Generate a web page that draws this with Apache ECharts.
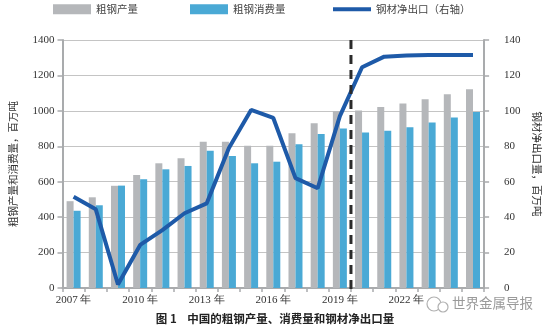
<!DOCTYPE html>
<html>
<head>
<meta charset="utf-8">
<script src="https://cdn.jsdelivr.net/npm/echarts@6/dist/echarts.min.js"></script>
<style>html,body{margin:0;padding:0;background:#fff;}#c{width:550px;height:327px;}</style>
</head>
<body>
<div id="c"></div>
<script>
var years = ['2007','2008','2009','2010','2011','2012','2013','2014','2015','2016','2017','2018','2019','2020','2021','2022','2023','2024','2025'];
var production = [490, 512, 577, 638, 704, 732, 826, 826, 803, 803, 873, 930, 998, 1002, 1022, 1042, 1066, 1094, 1122];
var consumption = [436, 467, 578, 614, 670, 689, 775, 745, 704, 713, 811, 869, 901, 878, 888, 908, 934, 962, 993];
var netExport = [51.5, 44.4, 2, 24.3, 32.7, 42.2, 47.8, 79, 100.5, 96, 62, 56.3, 97, 124.6, 130.6, 131.2, 131.5, 131.5, 131.5];
var leftTicks = {min: 0, max: 1400, interval: 200};
var rightTicks = {min: 0, max: 140, interval: 20};
var splitBefore = '2020';

var chart = echarts.init(document.getElementById('c'));
var serif = 'Liberation Serif';
var cjk = 'Noto Sans CJK SC';
var axisGray = '#a9abad';

function legendAt(left, name, icon) {
  return {
    left: left, top: 4, padding: 0, itemWidth: 38, itemHeight: 10,
    textStyle: {fontSize: 10.5, color: '#444', fontFamily: cjk},
    data: [{name: name, icon: icon}]
  };
}

var option = {
  animation: false,
  legend: [
    legendAt(53, '粗钢产量', 'rect'),
    legendAt(190, '粗钢消费量', 'rect'),
    legendAt(333, '钢材净出口（右轴）', 'path://M0,0 L40,0 L40,4 L0,4 Z')
  ],
  grid: {left: 58, right: 55, top: 40, bottom: 39},
  xAxis: {
    type: 'category', data: years,
    axisLine: {lineStyle: {color: axisGray, width: 2}},
    axisTick: {show: true, interval: 0, length: 4, lineStyle: {color: axisGray, width: 1.5}},
    axisLabel: {
      interval: 0, margin: 7, fontFamily: serif, fontSize: 11, color: '#333',
      formatter: function (v, i) { return i % 3 === 0 ? v + ' 年' : ''; }
    }
  },
  yAxis: [
    {
      type: 'value', min: leftTicks.min, max: leftTicks.max, interval: leftTicks.interval,
      name: '粗钢产量和消费量，百万吨', nameLocation: 'middle', nameGap: 44,
      nameTextStyle: {fontFamily: cjk, fontSize: 10.5, color: '#333'},
      axisLine: {show: true, lineStyle: {color: axisGray, width: 2}},
      axisTick: {show: true, length: 5, lineStyle: {color: axisGray, width: 1.5}},
      axisLabel: {fontFamily: serif, fontSize: 11, color: '#333', margin: 8,
                  formatter: function (v) { return String(v); }},
      splitLine: {lineStyle: {color: '#c4c4c4', width: 1.2}}
    },
    {
      type: 'value', min: rightTicks.min, max: rightTicks.max, interval: rightTicks.interval,
      name: '钢材净出口量，百万吨', nameLocation: 'middle', nameGap: 46, nameRotate: -90,
      nameTextStyle: {fontFamily: cjk, fontSize: 10.5, color: '#333'},
      axisLine: {show: true, lineStyle: {color: axisGray, width: 2}},
      axisTick: {show: true, inside: false, length: 5, lineStyle: {color: axisGray, width: 1.5}},
      axisLabel: {fontFamily: serif, fontSize: 11, color: '#333', margin: 20,
                  formatter: function (v) { return String(v); }},
      splitLine: {show: false}
    }
  ],
  series: [
    {name: '粗钢产量', type: 'bar', data: production, barWidth: 7, barGap: '0%',
     itemStyle: {color: '#b5b7ba'}, z: 2},
    {name: '粗钢消费量', type: 'bar', data: consumption, barWidth: 7, barGap: '0%',
     itemStyle: {color: '#4aa9d5'}, z: 2},
    {name: '钢材净出口（右轴）', type: 'line', yAxisIndex: 1, data: netExport,
     symbol: 'none', lineStyle: {color: '#1e5aa8', width: 4}, itemStyle: {color: '#1e5aa8'}, z: 5}
  ]
};
chart.setOption(option);

var idx = years.indexOf(splitBefore);
var xa = chart.convertToPixel({xAxisIndex: 0}, years[idx - 1]);
var xb = chart.convertToPixel({xAxisIndex: 0}, years[idx]);
var xm = (xa + xb) / 2;
var yTop = chart.convertToPixel({yAxisIndex: 0}, leftTicks.max);
var yBot = chart.convertToPixel({yAxisIndex: 0}, leftTicks.min);

chart.setOption({
  graphic: [
    {type: 'line', z: 10, shape: {x1: xm, y1: yTop, x2: xm, y2: yBot + 3},
     style: {stroke: '#2b2b2b', lineWidth: 3, lineDash: [9, 6]}},
    {type: 'text', left: 'center', top: 313,
     style: {text: '图 1    中国的粗钢产量、消费量和钢材净出口量', fontFamily: cjk, fontSize: 11.5, fontWeight: 'bold', fill: '#222'}},
    {type: 'rect', z: 20, shape: {x: 424, y: 294, width: 126, height: 20}, style: {fill: '#fff'}},
    {type: 'circle', z: 21, shape: {cx: 434, cy: 304, r: 7}, style: {fill: 'none', stroke: '#b0b0b0', lineWidth: 1.2}},
    {type: 'circle', z: 21, shape: {cx: 443, cy: 307, r: 5}, style: {fill: '#fff', stroke: '#b0b0b0', lineWidth: 1.2}},
    {type: 'text', z: 21, left: 452, top: 296,
     style: {text: '世界金属导报', fontFamily: cjk, fontSize: 13.5, fill: '#9a9a9a'}}
  ]
});
</script>
</body>
</html>
